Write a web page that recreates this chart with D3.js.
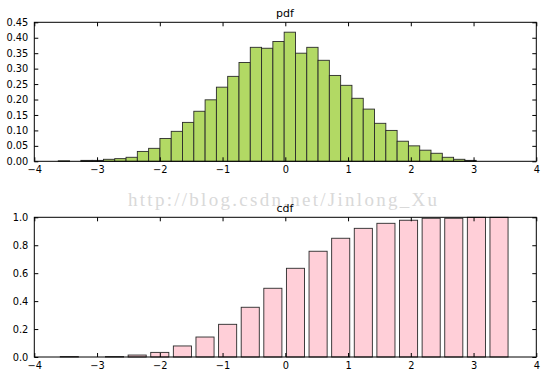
<!DOCTYPE html>
<html>
<head>
<meta charset="utf-8">
<script src="https://cdn.jsdelivr.net/npm/d3@7"></script>
<style>
body { margin: 0; background: #fff; }
text { font-family: "DejaVu Sans", sans-serif; }
</style>
</head>
<body>
<script>
var width = 546;
var height = 378;

// histogram (pdf) - bins start at pdfStart, each pdfBinWidth wide
var pdfStart = -3.618;
var pdfBinWidth = 0.18;
var pdfValues = [0.0015, 0, 0.003, 0.003, 0.0065, 0.0086, 0.013, 0.032, 0.042, 0.074,
    0.097, 0.126, 0.162, 0.199, 0.240, 0.275, 0.320, 0.369, 0.366, 0.388,
    0.418, 0.350, 0.369, 0.327, 0.278, 0.246, 0.204, 0.169, 0.123, 0.100,
    0.065, 0.050, 0.036, 0.026, 0.013, 0.0065, 0.003];

// cumulative (cdf) bars
var cdfStart = -3.586;
var cdfStep = 0.3604;
var cdfValues = [0.003, 0, 0.003, 0.014, 0.033, 0.079, 0.143, 0.234, 0.356, 0.492,
    0.635, 0.757, 0.850, 0.921, 0.957, 0.979, 0.993, 0.993, 1.0, 1.0];

var xTicks = [-4, -3, -2, -1, 0, 1, 2, 3, 4];
var pdfTicks = [0, 0.05, 0.10, 0.15, 0.20, 0.25, 0.30, 0.35, 0.40, 0.45];
var cdfTicks = [0, 0.2, 0.4, 0.6, 0.8, 1.0];

var svg = d3.select('body').append('svg')
    .attr('width', width)
    .attr('height', height);

// watermark
svg.append('text')
    .attr('x', 128)
    .attr('y', 206)
    .attr('textLength', 309)
    .attr('lengthAdjust', 'spacing')
    .style('font-family', '"Liberation Serif", serif')
    .style('font-size', '19px')
    .attr('fill', '#d9d9d9')
    .text('http://blog.csdn.net/Jinlong_Xu');

function panel(top, bottom, yMax, yTicks, yFmt, title) {
    var x = d3.scaleLinear().domain([-4, 4]).range([34.3, 536.3]);
    var y = d3.scaleLinear().domain([0, yMax]).range([bottom, top]);
    var g = svg.append('g');

    g.append('text')
        .attr('x', 285)
        .attr('y', top - 5.5)
        .attr('text-anchor', 'middle')
        .style('font-size', '11px')
        .text(title);

    return { x: x, y: y, g: g, draw: function () {
        g.append('g')
            .attr('transform', `translate(0,${bottom})`)
            .call(d3.axisBottom(x).tickValues(xTicks).tickSize(-4).tickPadding(5).tickFormat(d3.format('d')));
        g.append('g')
            .attr('transform', `translate(0,${top})`)
            .call(d3.axisTop(x).tickValues(xTicks).tickSize(-4).tickFormat(''));
        g.append('g')
            .attr('transform', 'translate(34.3,0)')
            .call(d3.axisLeft(y).tickValues(yTicks).tickSize(-4).tickPadding(6).tickFormat(d3.format(yFmt)));
        g.append('g')
            .attr('transform', 'translate(536.3,0)')
            .call(d3.axisRight(y).tickValues(yTicks).tickSize(-4).tickFormat(''));
        g.selectAll('.domain').remove();
        g.selectAll('.tick line').attr('stroke', '#000');
        g.selectAll('.tick text').style('font-size', '9.8px').attr('fill', '#000');
        g.append('rect')
            .attr('x', 34.3).attr('y', top)
            .attr('width', 502).attr('height', bottom - top)
            .attr('fill', 'none').attr('stroke', '#000').attr('stroke-width', 1);
    } };
}

var p1 = panel(22.3, 161.3, 0.45, pdfTicks, '.2f', 'pdf');
p1.g.append('g').selectAll('rect')
    .data(pdfValues.map((v, i) => ({ x0: pdfStart + i * pdfBinWidth, v: v })).filter((d) => d.v > 0))
    .enter().append('rect')
    .attr('x', (d) => p1.x(d.x0))
    .attr('width', (d) => p1.x(d.x0 + pdfBinWidth) - p1.x(d.x0))
    .attr('y', (d) => p1.y(d.v))
    .attr('height', (d) => p1.y(0) - p1.y(d.v))
    .attr('fill', '#b2d964')
    .attr('stroke', '#2a2a2a')
    .attr('stroke-width', 0.9);
p1.draw();

var p2 = panel(217.3, 357, 1.0, cdfTicks, '.1f', 'cdf');
p2.g.append('g').selectAll('rect')
    .data(cdfValues.map((v, i) => ({ x0: cdfStart + i * cdfStep, v: v })).filter((d) => d.v > 0))
    .enter().append('rect')
    .attr('x', (d) => p2.x(d.x0))
    .attr('width', (d) => p2.x(d.x0 + cdfStep * 0.8) - p2.x(d.x0))
    .attr('y', (d) => p2.y(d.v))
    .attr('height', (d) => p2.y(0) - p2.y(d.v))
    .attr('fill', '#ffcfd8')
    .attr('stroke', '#2a2a2a')
    .attr('stroke-width', 0.9);
p2.draw();
</script>
</body>
</html>
